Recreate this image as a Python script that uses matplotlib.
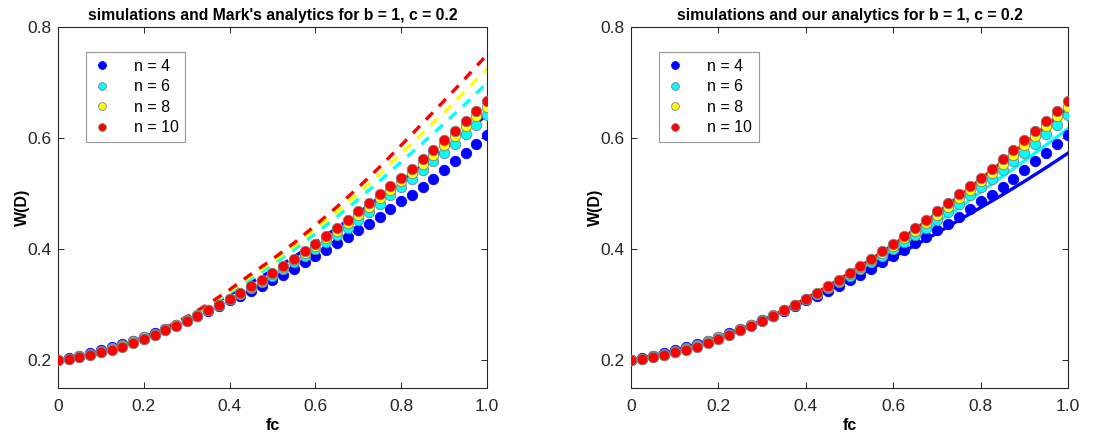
import matplotlib
matplotlib.use('Agg')
import matplotlib.pyplot as plt

plt.rcParams['font.family'] = ['Liberation Sans', 'DejaVu Sans']

# sample grid used by the simulations (step 0.025)
fc = [0.000, 0.025, 0.050, 0.075, 0.100, 0.125, 0.150, 0.175, 0.200, 0.225,
      0.250, 0.275, 0.300, 0.325, 0.350, 0.375, 0.400, 0.425, 0.450, 0.475,
      0.500, 0.525, 0.550, 0.575, 0.600, 0.625, 0.650, 0.675, 0.700, 0.725,
      0.750, 0.775, 0.800, 0.825, 0.850, 0.875, 0.900, 0.925, 0.950, 0.975,
      1.000]

# simulated W(D)
sim_n4 = [0.200, 0.204, 0.208, 0.213, 0.218, 0.224, 0.229, 0.235, 0.242, 0.249,
          0.256, 0.264, 0.272, 0.280, 0.289, 0.298, 0.308, 0.316, 0.324, 0.334,
          0.344, 0.354, 0.364, 0.376, 0.388, 0.399, 0.411, 0.422, 0.434, 0.446,
          0.458, 0.473, 0.486, 0.498, 0.512, 0.527, 0.543, 0.559, 0.574, 0.590,
          0.605]
sim_n6 = [0.200, 0.203, 0.207, 0.212, 0.217, 0.222, 0.227, 0.234, 0.241, 0.248,
          0.256, 0.264, 0.272, 0.281, 0.290, 0.300, 0.310, 0.319, 0.330, 0.341,
          0.352, 0.364, 0.376, 0.388, 0.400, 0.413, 0.426, 0.439, 0.453, 0.467,
          0.482, 0.497, 0.512, 0.527, 0.542, 0.558, 0.574, 0.590, 0.608, 0.624,
          0.641]
sim_n8 = [0.200, 0.202, 0.206, 0.210, 0.215, 0.220, 0.225, 0.232, 0.239, 0.246,
          0.255, 0.263, 0.271, 0.280, 0.290, 0.300, 0.311, 0.320, 0.332, 0.343,
          0.355, 0.367, 0.380, 0.393, 0.406, 0.420, 0.433, 0.447, 0.462, 0.476,
          0.492, 0.507, 0.522, 0.538, 0.554, 0.570, 0.587, 0.604, 0.622, 0.639,
          0.656]
sim_n10 = [0.200, 0.202, 0.205, 0.209, 0.214, 0.219, 0.224, 0.231, 0.238, 0.245,
           0.254, 0.262, 0.271, 0.280, 0.290, 0.300, 0.311, 0.321, 0.333, 0.345,
           0.357, 0.370, 0.383, 0.396, 0.410, 0.424, 0.438, 0.453, 0.468, 0.483,
           0.499, 0.513, 0.528, 0.545, 0.562, 0.578, 0.597, 0.613, 0.631, 0.649,
           0.666]

# analytic curves, step 0.05
fc_line = [0.00, 0.05, 0.10, 0.15, 0.20, 0.25, 0.30, 0.35, 0.40, 0.45, 0.50,
           0.55, 0.60, 0.65, 0.70, 0.75, 0.80, 0.85, 0.90, 0.95, 1.00]

mark_n4 = [0.200, 0.206, 0.215, 0.227, 0.241, 0.258, 0.277, 0.297, 0.318, 0.340,
           0.362, 0.386, 0.412, 0.438, 0.465, 0.493, 0.522, 0.551, 0.580, 0.611,
           0.642]
mark_n6 = [0.200, 0.205, 0.213, 0.225, 0.239, 0.256, 0.276, 0.297, 0.321, 0.346,
           0.372, 0.399, 0.428, 0.458, 0.490, 0.523, 0.557, 0.591, 0.626, 0.662,
           0.699]
mark_n8 = [0.200, 0.205, 0.213, 0.225, 0.239, 0.257, 0.277, 0.299, 0.324, 0.351,
           0.377, 0.405, 0.436, 0.467, 0.500, 0.535, 0.572, 0.609, 0.646, 0.685,
           0.725]
mark_n10 = [0.200, 0.205, 0.213, 0.225, 0.239, 0.257, 0.278, 0.301, 0.327, 0.355,
            0.382, 0.411, 0.443, 0.476, 0.511, 0.548, 0.587, 0.627, 0.667, 0.708,
            0.750]

ours_n4 = [0.200, 0.208, 0.218, 0.229, 0.242, 0.256, 0.272, 0.289, 0.307, 0.325,
           0.344, 0.365, 0.386, 0.407, 0.429, 0.452, 0.475, 0.498, 0.522, 0.547,
           0.573]
ours_n6 = [0.200, 0.207, 0.217, 0.227, 0.241, 0.256, 0.272, 0.290, 0.310, 0.330,
           0.351, 0.374, 0.398, 0.423, 0.448, 0.474, 0.503, 0.531, 0.559, 0.588,
           0.617]
ours_n8 = [0.200, 0.206, 0.215, 0.225, 0.239, 0.255, 0.271, 0.290, 0.311, 0.332,
           0.355, 0.379, 0.404, 0.430, 0.458, 0.487, 0.518, 0.549, 0.580, 0.611,
           0.643]
ours_n10 = [0.200, 0.205, 0.214, 0.224, 0.238, 0.254, 0.271, 0.290, 0.311, 0.333,
            0.357, 0.382, 0.408, 0.436, 0.465, 0.495, 0.526, 0.558, 0.590, 0.622,
            0.655]

labels = ['n = 4', 'n = 6', 'n = 8', 'n = 10']
colors = ['#0000ff', '#00ffff', '#ffff00', '#ff0000']
sims = [sim_n4, sim_n6, sim_n8, sim_n10]
marks = [mark_n4, mark_n6, mark_n8, mark_n10]
ours = [ours_n4, ours_n6, ours_n8, ours_n10]

axis_col = '#262626'


def setup(ax, title):
    ax.set_xlim(0, 1)
    ax.set_ylim(0.15, 0.8)
    ax.set_xticks([0, 0.2, 0.4, 0.6, 0.8, 1.0])
    ax.set_xticklabels(['0', '0.2', '0.4', '0.6', '0.8', '1.0'])
    ax.set_yticks([0.2, 0.4, 0.6, 0.8])
    ax.set_yticklabels(['0.2', '0.4', '0.6', '0.8'])
    ax.tick_params(direction='in', top=True, right=True, length=4,
                   width=0.7, colors=axis_col, labelsize=12.5)
    ax.tick_params(axis='x', pad=8)
    ax.tick_params(axis='y', pad=5)
    for s in ax.spines.values():
        s.set_color(axis_col)
        s.set_linewidth(0.8)
    ax.set_title(title, fontsize=11.3, fontweight='bold', pad=5)
    ax.set_xlabel('fc', fontsize=11.5, fontweight='bold', labelpad=3)
    ax.set_ylabel('W(D)', fontsize=11.5, fontweight='bold', labelpad=-2)


def draw_dots(ax):
    for i in range(4):
        edge = colors[i] if i == 0 else '#7f7f7f'
        ax.plot(fc, sims[i], 'o', color=colors[i], markersize=7.5,
                markeredgecolor=edge, markeredgewidth=0.6, label=labels[i],
                zorder=3)
    leg = ax.legend(loc='upper left', bbox_to_anchor=(0.065, 0.93),
                    fontsize=11.5, frameon=True, fancybox=False,
                    handlelength=1.2, handletextpad=1.4, borderpad=0.4,
                    labelspacing=0.35, markerscale=0.75, borderaxespad=0)
    leg.get_frame().set_edgecolor('#7f7f7f')
    leg.get_frame().set_linewidth(0.8)


fig = plt.figure(figsize=(11.09, 4.37), dpi=100)
ax1 = fig.add_axes([0.0523, 0.1121, 0.3868, 0.8261])
ax2 = fig.add_axes([0.5690, 0.1121, 0.3941, 0.8261])

for i in range(4):
    ax1.plot(fc_line, marks[i], color=colors[i], linewidth=2.4,
             linestyle=(0, (3, 2.6)), zorder=2)
draw_dots(ax1)
setup(ax1, "simulations and Mark's analytics for b = 1, c = 0.2")

for i in range(4):
    ax2.plot(fc_line, ours[i], color=colors[i], linewidth=2.4, zorder=2)
draw_dots(ax2)
setup(ax2, 'simulations and our analytics for b = 1, c = 0.2')

fig.savefig('out.png', dpi=100)
